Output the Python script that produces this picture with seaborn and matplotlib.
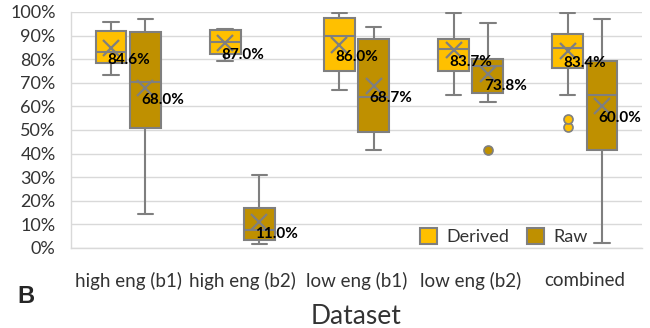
import numpy as np
import pandas as pd
import seaborn as sns
import matplotlib.pyplot as plt
from matplotlib.patches import Patch
from matplotlib.ticker import PercentFormatter

datasets = ['high eng (b1)', 'high eng (b2)', 'low eng (b1)', 'low eng (b2)', 'combined']
types = ['Derived', 'Raw']

# five-number summaries (percent)
derived_lo = [73.1, 79.1, 67.1, 64.7, 64.7]
derived_q1 = [78.5, 82.2, 75.1, 75.1, 76.3]
derived_med = [83.2, 87.1, 90.0, 84.3, 84.7]
derived_q3 = [92.1, 92.4, 97.5, 88.6, 90.7]
derived_hi = [95.9, 92.9, 99.6, 99.6, 99.6]
derived_out = [[], [], [], [], [51.3, 54.5]]
derived_mean = [84.6, 87.0, 86.0, 83.7, 83.4]

raw_lo = [14.5, 1.8, 41.7, 61.9, 2.1]
raw_q1 = [50.8, 3.2, 49.2, 65.7, 41.4]
raw_med = [70.3, 7.8, 64.0, 77.0, 64.7]
raw_q3 = [91.5, 16.9, 88.7, 80.1, 79.4]
raw_hi = [97.0, 30.8, 93.6, 95.3, 97.0]
raw_out = [[], [], [], [41.7], []]
raw_mean = [68.0, 11.0, 68.7, 73.8, 60.0]

palette = {'Derived': '#FFC000', 'Raw': '#BF9000'}
edge = '#7F7F7F'


def expand(lo, q1, med, q3, hi, outliers, m=10):
    # sample whose quartiles / whiskers reproduce the summary exactly
    k = len(outliers)
    return list(outliers) + [lo] * m + [q1] * m + [med] * m + [q3] * m + [hi] * (m + k)


rows = []
summaries = {
    'Derived': (derived_lo, derived_q1, derived_med, derived_q3, derived_hi, derived_out),
    'Raw': (raw_lo, raw_q1, raw_med, raw_q3, raw_hi, raw_out),
}
for t, (lo, q1, med, q3, hi, out) in summaries.items():
    for i, d in enumerate(datasets):
        for v in expand(lo[i], q1[i], med[i], q3[i], hi[i], out[i]):
            rows.append({'dataset': d, 'type': t, 'value': v})
df = pd.DataFrame(rows)

means = {'Derived': derived_mean, 'Raw': raw_mean}
mean_df = pd.DataFrame([{'dataset': d, 'type': t, 'mean': means[t][i]}
                        for t in types for i, d in enumerate(datasets)])

sns.set_style('whitegrid')
plt.rcParams['font.family'] = ['Lato', 'DejaVu Sans']

fig, ax = plt.subplots(figsize=(6.5, 3.28), dpi=100)
fig.subplots_adjust(left=71 / 650, right=642 / 650, bottom=(328 - 248) / 328, top=(328 - 12) / 328)

sns.boxplot(data=df, x='dataset', y='value', hue='type', order=datasets, hue_order=types,
            palette=palette, saturation=1, width=0.6, gap=0.1, linewidth=1.5, linecolor=edge,
            whis=1.5,
            flierprops=dict(marker='o', markersize=6.5, markeredgecolor=edge, markeredgewidth=1.2),
            legend=False, ax=ax)

# fliers take the fill colour of their box
for line in ax.lines:
    if line.get_marker() == 'o' and len(line.get_xdata()):
        x0 = line.get_xdata()[0]
        line.set_markerfacecolor(palette['Derived'] if x0 - round(x0) < 0 else palette['Raw'])

sns.pointplot(data=mean_df, x='dataset', y='mean', hue='type', order=datasets, hue_order=types,
              palette={t: edge for t in types}, dodge=0.3, linestyle='none', markers='x',
              errorbar=None, markersize=11, markeredgewidth=1.6, legend=False, ax=ax)

for j, t in enumerate(types):
    off = -0.15 if j == 0 else 0.15
    for i, m in enumerate(means[t]):
        ax.annotate(f'{m:.1f}%', (i + off, m), xytext=(-4, -12), textcoords='offset pixels',
                    ha='left', va='center', fontsize=11, fontweight='bold', color='black',
                    zorder=10)

ax.set_ylim(0, 100)
ax.set_xlim(-0.5, 4.5)
ax.set_yticks(range(0, 101, 10))
ax.yaxis.set_major_formatter(PercentFormatter(100, decimals=0))
ax.grid(axis='y', color='#D9D9D9', linewidth=1)
ax.grid(axis='x', visible=False)
ax.set_axisbelow(True)
for s in ['top', 'right']:
    ax.spines[s].set_visible(False)
for s in ['left', 'bottom']:
    ax.spines[s].set_color('#D9D9D9')
    ax.spines[s].set_linewidth(1)
ax.tick_params(length=0, labelcolor='#333333')
ax.tick_params(axis='y', labelsize=13, pad=11)
ax.tick_params(axis='x', labelsize=13.5, pad=17)
ax.set_ylabel('')
ax.set_xlabel('Dataset', fontsize=19, color='#333333', labelpad=10)

handles = [Patch(facecolor=palette[t], edgecolor=edge, linewidth=1.5, label=t) for t in types]
ax.legend(handles=handles, loc='center', bbox_to_anchor=(0.758, 0.047), ncol=2, frameon=False,
          fontsize=13, handlelength=0.95, handleheight=0.95, columnspacing=0.95,
          handletextpad=0.55, labelcolor='#333333')

fig.text(0.026, 0.095, 'B', fontsize=17, fontweight='bold', ha='left', va='center',
         family='Liberation Sans')

fig.savefig('out.png', dpi=100)
